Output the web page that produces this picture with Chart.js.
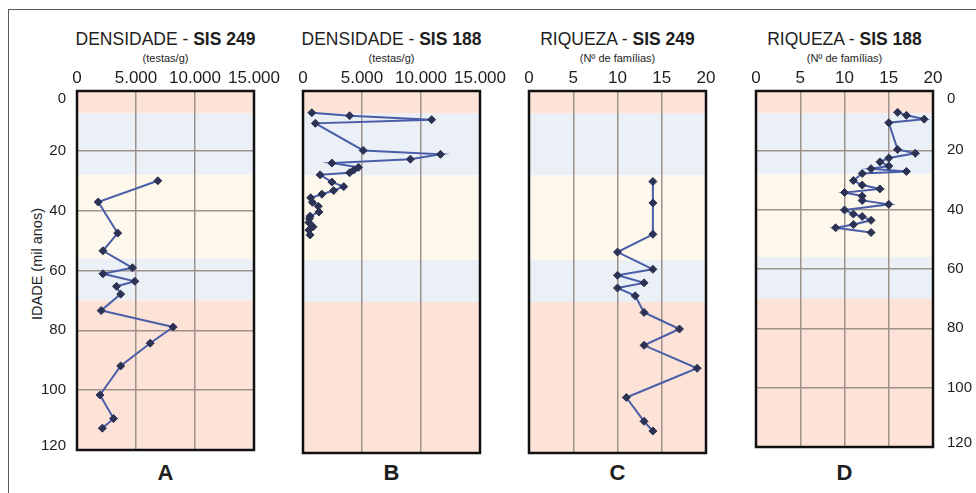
<!DOCTYPE html>
<html><head><meta charset="utf-8">
<script src="https://cdn.jsdelivr.net/npm/chart.js@4.4.1/dist/chart.umd.min.js"></script>
<style>
html,body{margin:0;padding:0;background:#fff;width:976px;height:493px;overflow:hidden;font-family:'Liberation Sans',Arial,sans-serif;color:#1e1e1e}
#frame{position:absolute;left:8px;top:9px;width:1000px;height:520px;border:1.5px solid #5a5a5a;box-sizing:border-box}
canvas{position:absolute;top:60px}
.t{position:absolute;top:30px;font-size:17.5px;line-height:18px;white-space:nowrap;transform:translateX(-50%)}
.s{position:absolute;top:52px;font-size:11px;line-height:12px;white-space:nowrap;transform:translateX(-50%)}
.l{position:absolute;top:462px;font-size:22px;line-height:22px;font-weight:bold;transform:translateX(-50%)}
#ytitle{position:absolute;left:37px;top:264px;font-size:14.5px;line-height:16px;white-space:nowrap;transform:translate(-50%,-50%) rotate(-90deg)}
</style></head>
<body>
<div id="frame"></div>
<div class="t" style="left:165.5px">DENSIDADE - <b>SIS 249</b></div>
<div class="s" style="left:165.5px">(testas/g)</div>
<div class="t" style="left:391.5px">DENSIDADE - <b>SIS 188</b></div>
<div class="s" style="left:391.5px">(testas/g)</div>
<div class="t" style="left:617.5px">RIQUEZA - <b>SIS 249</b></div>
<div class="s" style="left:617.5px">(Nº de famílias)</div>
<div class="t" style="left:844.5px">RIQUEZA - <b>SIS 188</b></div>
<div class="s" style="left:844.5px">(Nº de famílias)</div>
<div class="l" style="left:165.5px">A</div>
<div class="l" style="left:391.5px">B</div>
<div class="l" style="left:617.5px">C</div>
<div class="l" style="left:844.5px">D</div>
<div id="ytitle">IDADE (mil anos)</div>
<canvas id="cA" width="287" height="410" style="left:7px"></canvas>
<canvas id="cB" width="257" height="410" style="left:263px"></canvas>
<canvas id="cC" width="257" height="410" style="left:489px"></canvas>
<canvas id="cD" width="277" height="410" style="left:716px"></canvas>
<script>
// ---- data ----
const ageSIS249 = [30.0, 37.1, 47.5, 53.4, 59.1, 61.1, 63.6, 65.3, 67.9, 73.4, 78.9, 84.3, 91.9, 101.6, 109.5, 112.7];
const densSIS249 = [6850, 1800, 3450, 2200, 4700, 2200, 4900, 3350, 3700, 2050, 8150, 6200, 3700, 1950, 3100, 2150];
const riqSIS249 = [14, 14, 14, 10, 14, 10, 13, 10, 12, 13, 17, 13, 19, 11, 13, 14];
const ageSIS188 = [7.2, 8.2, 9.5, 10.7, 19.7, 21.0, 22.6, 23.9, 25.3, 26.2, 27.1, 27.8, 30.2, 31.7, 33.0, 34.2, 35.4, 36.9, 38.2, 40.1, 41.5, 42.3, 43.6, 45.0, 46.1, 47.7];
const densSIS188 = [750, 3950, 10900, 1050, 5100, 11650, 9100, 2450, 4700, 4300, 3950, 1450, 2450, 3450, 2600, 1600, 650, 800, 1300, 1350, 600, 550, 500, 850, 500, 600];
const riqSIS188 = [16, 17, 19, 15, 16, 18, 15, 14, 15, 13, 17, 12, 11, 12, 14, 10, 12, 12, 15, 10, 11, 12, 13, 11, 9, 13];
const densTickLabels = ['0', '5.000', '10.000', '15.000'];
const riqTickLabels = ['0', '5', '10', '15', '20'];
const ageTickLabels = ['0', '20', '40', '60', '80', '100', '120'];
const bandEdges = [0, 7.5, 28, 56, 70, 120];

// ---- styles ----
const bandColors = ['#fce2d7', '#ebf0f6', '#fef8ec', '#ebf0f6', '#fce2d7'];
const FONT = "'Liberation Sans', Arial, sans-serif";
const gridColor = '#9d928b';

const panelPlugin = {
  id: 'panel',
  beforeDraw(chart) {
    const { ctx, chartArea: a, scales: { y } } = chart;
    ctx.save();
    for (let i = 0; i < bandColors.length; i++) {
      const y0 = y.getPixelForValue(bandEdges[i]);
      const y1 = y.getPixelForValue(bandEdges[i + 1]);
      ctx.fillStyle = bandColors[i];
      ctx.fillRect(a.left, y0, a.right - a.left, y1 - y0);
    }
    ctx.restore();
    if (y.options.display) {
      const items = y.getLabelItems();
      const first = ageTickLabels[0], last = ageTickLabels[ageTickLabels.length - 1];
      items.forEach(it => {
        if (it.label === first) it.options.textBaseline = 'top';
        else if (it.label === last) it.options.textBaseline = 'alphabetic';
      });
    }
  },
  beforeDatasetsDraw(chart) {
    const { ctx, chartArea: a } = chart;
    ctx.save();
    ctx.strokeStyle = '#111';
    ctx.lineWidth = 2.5;
    ctx.strokeRect(a.left, a.top, a.right - a.left, a.bottom - a.top);
    ctx.restore();
  }
};

function makePanel(id, ages, vals, xMax, xStep, xLabels, yPos) {
  const yShown = yPos !== null;
  const yScale = {
    type: 'linear',
    display: yShown,
    position: yPos || 'left',
    reverse: true,
    min: 0, max: 120,
    grid: { color: gridColor, lineWidth: 1.5, drawTicks: false },
    border: { display: false },
    ticks: {
      stepSize: 20,
      padding: yPos === 'right' ? 14 : 11,
      color: '#1e1e1e',
      font: { family: FONT, size: 15 },
      callback: v => ageTickLabels[Math.round(v / 20)]
    }
  };
  if (yShown) yScale.afterFit = s => { s.width = yPos === 'left' ? 70 : 60; };
  new Chart(document.getElementById(id), {
    type: 'scatter',
    data: {
      datasets: [{
        data: ages.map((a, i) => ({ x: vals[i], y: a })),
        showLine: true,
        borderColor: '#4a5ea8',
        borderWidth: 2,
        pointStyle: 'rectRot',
        pointRadius: 4,
        pointBackgroundColor: '#2b3254',
        pointBorderColor: '#2b3254',
        pointBorderWidth: 1
      }]
    },
    options: {
      responsive: false,
      animation: false,
      events: [],
      layout: {
        padding: {
          left: yPos === 'left' ? 0 : 40,
          right: yPos === 'right' ? 0 : 40,
          top: 0,
          bottom: 17
        }
      },
      plugins: { legend: { display: false }, tooltip: { enabled: false } },
      scales: {
        x: {
          type: 'linear',
          position: 'top',
          min: 0, max: xMax,
          afterFit: s => { s.height = 31; },
          grid: { color: gridColor, lineWidth: 1.5, drawTicks: false },
          border: { display: false },
          ticks: {
            stepSize: xStep,
            padding: 2,
            maxRotation: 0,
            minRotation: 0,
            color: '#1e1e1e',
            font: { family: FONT, size: 17 },
            callback: v => xLabels[Math.round(v / xStep)]
          }
        },
        y: yScale
      }
    },
    plugins: [panelPlugin]
  });
}

makePanel('cA', ageSIS249, densSIS249, 15000, 5000, densTickLabels, 'left');
makePanel('cB', ageSIS188, densSIS188, 15000, 5000, densTickLabels, null);
makePanel('cC', ageSIS249, riqSIS249, 20, 5, riqTickLabels, null);
makePanel('cD', ageSIS188, riqSIS188, 20, 5, riqTickLabels, 'right');
</script>
</body></html>
